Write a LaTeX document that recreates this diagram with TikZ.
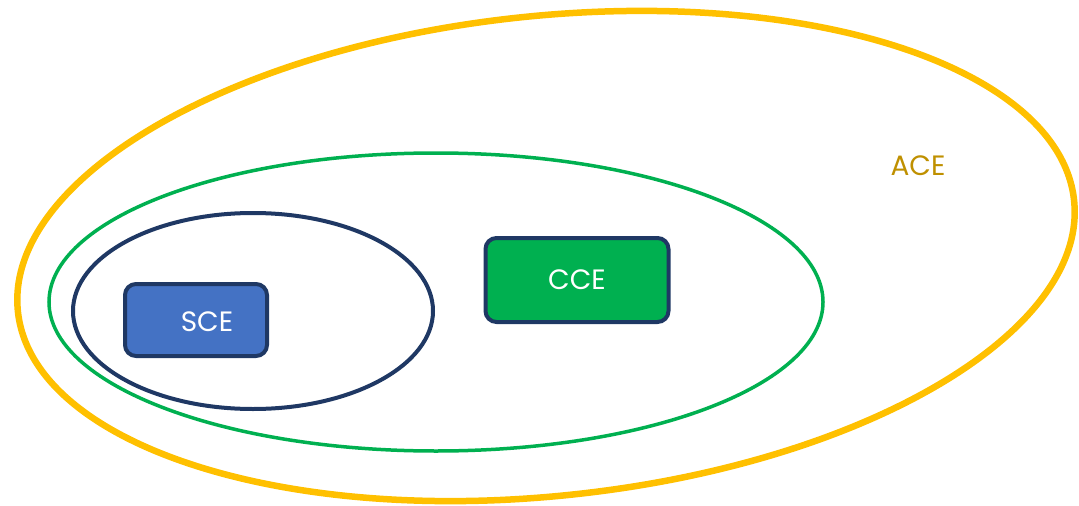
\documentclass[tikz,border=0pt]{standalone}
\usepackage{fontspec}
\setmainfont{Poppins}
\usetikzlibrary{shapes.geometric}
\definecolor{aceorange}{HTML}{FFC000}
\definecolor{ccegreen}{HTML}{00B050}
\definecolor{navy}{HTML}{1F3864}
\definecolor{sceblue}{HTML}{4472C4}
\definecolor{acetext}{HTML}{BF9000}
\tikzset{
  ring/.style={ellipse, inner sep=0pt},
  labelfont/.style={font=\fontsize{28}{32}\selectfont},
  boxnode/.style={rounded corners=11pt, draw=navy, line width=4pt, inner sep=0pt, text=white, labelfont},
}
\begin{document}
\begin{tikzpicture}[x=1pt,y=-1pt]
\useasboundingbox (0,0) rectangle (1079,506);
\node[ring, draw=aceorange, line width=6.5pt, minimum width=1062pt, minimum height=480pt, rotate=6] (ace) at (546,256) {};
\node[ring, draw=ccegreen, line width=3.5pt, minimum width=774pt, minimum height=298pt] (cce) at (436,302) {};
\node[ring, draw=navy, line width=4pt, minimum width=360pt, minimum height=196pt] (sce) at (253,311) {};
\node[boxnode, fill=sceblue, minimum width=142pt, minimum height=72pt] (scebox) at (196,320) {};
\node[text=white, labelfont, inner sep=0pt] (scelabel) at (207,322) {SCE};
\node[boxnode, fill=ccegreen, minimum width=183pt, minimum height=84pt] (ccebox) at (577,280) {CCE};
\node[text=acetext, labelfont, inner sep=0pt] (acelabel) at (918,166) {ACE};
\end{tikzpicture}
\end{document}
